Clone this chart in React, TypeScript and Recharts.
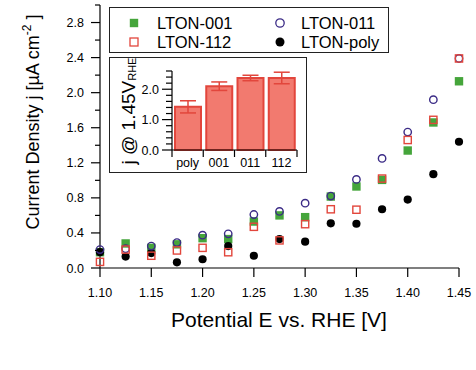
import React from 'react';
import {
  ScatterChart, Scatter, XAxis, YAxis, BarChart, Bar, ErrorBar, Label,
} from 'recharts';

const FONT = '"Liberation Sans", Arial, Helvetica, sans-serif';

// ---- main chart data ----
const potentials = [1.1, 1.125, 1.15, 1.175, 1.2, 1.225, 1.25, 1.275, 1.3, 1.325, 1.35, 1.375, 1.4, 1.425, 1.45];
const lton001 = [0.18, 0.28, 0.23, 0.27, 0.34, 0.33, 0.53, 0.6, 0.58, 0.815, 0.93, 1.005, 1.34, 1.66, 2.13];
const lton011 = [0.21, 0.22, 0.25, 0.29, 0.375, 0.39, 0.61, 0.645, 0.74, 0.82, 1.01, 1.25, 1.55, 1.92, 2.39];
const lton112 = [0.07, 0.21, 0.14, 0.2, 0.23, 0.18, 0.47, 0.315, 0.5, 0.67, 0.665, 1.02, 1.46, 1.69, 2.39];
const ltonPoly = [0.18, 0.13, 0.17, 0.065, 0.1, 0.25, 0.14, 0.33, 0.3, 0.51, 0.505, 0.67, 0.78, 1.07, 1.44];
const seriesNames = ['LTON-001', 'LTON-011', 'LTON-112', 'LTON-poly'];

const xTicks = [1.1, 1.15, 1.2, 1.25, 1.3, 1.35, 1.4, 1.45];
const yTicks = [0, 0.2, 0.4, 0.6, 0.8, 1.0, 1.2, 1.4, 1.6, 1.8, 2.0, 2.2, 2.4, 2.6, 2.8, 3.0];
const yMajor = [0, 0.4, 0.8, 1.2, 1.6, 2.0, 2.4, 2.8];

// ---- inset data ----
const insetCats = ['poly', '001', '011', '112'];
const insetVals = [1.42, 2.1, 2.37, 2.37];
const insetErr = [0.2, 0.14, 0.09, 0.19];
const insetTicks = [0, 0.2, 0.4, 0.6, 0.8, 1.0, 1.2, 1.4, 1.6, 1.8, 2.0, 2.2, 2.4, 2.6];
const insetMajor = [0, 1, 2];

const GREEN = '#45a53b';
const RED = '#e2463c';
const PURPLE = '#3b2b86';
const BAR_FILL = '#f27a6f';

const toPts = (vals: number[]) => potentials.map((x, i) => ({ x, y: vals[i] }));
const isIn = (arr: number[], v: number) => arr.some((a) => Math.abs(a - v) < 1e-6);

const GreenSquare = (p: any) => <rect x={p.cx - 4.2} y={p.cy - 4.2} width={8.4} height={8.4} fill={GREEN} />;
const RedSquare = (p: any) => (
  <rect x={p.cx - 3.6} y={p.cy - 3.6} width={7.2} height={7.2} fill="none" stroke={RED} strokeWidth={1.4} />
);
const OpenCircle = (p: any) => <circle cx={p.cx} cy={p.cy} r={3.7} fill="none" stroke={PURPLE} strokeWidth={1.4} />;
const BlackCircle = (p: any) => <circle cx={p.cx} cy={p.cy} r={4.1} fill="#000" />;

const XTick = (props: any) => {
  const { x, y, payload } = props;
  return (
    <g>
      <line x1={x} y1={y} x2={x} y2={y + 9} stroke="#000" strokeWidth={1.2} />
      <text x={x} y={y + 29} textAnchor="middle" fontSize={12.5} fontFamily={FONT} fill="#000">
        {Number(payload.value).toFixed(2)}
      </text>
    </g>
  );
};

const YTick = (props: any) => {
  const { x, y, payload } = props;
  const v = Number(payload.value);
  const major = isIn(yMajor, v);
  return (
    <g>
      <line x1={x} y1={y} x2={x - (major ? 9 : 5)} y2={y} stroke="#000" strokeWidth={1.2} />
      {major && (
        <text x={x - 16} y={y + 4.5} textAnchor="end" fontSize={12.5} fontFamily={FONT} fill="#000">
          {v.toFixed(1)}
        </text>
      )}
    </g>
  );
};

const InsetYTick = (props: any) => {
  const { x, y, payload } = props;
  const v = Number(payload.value);
  const major = isIn(insetMajor, v);
  return (
    <g>
      <line x1={x} y1={y} x2={x - (major ? 10 : 6)} y2={y} stroke="#000" strokeWidth={1.2} />
      {major && (
        <text x={x - 13} y={y + 4.5} textAnchor="end" fontSize={12.5} fontFamily={FONT} fill="#000">
          {v.toFixed(1)}
        </text>
      )}
    </g>
  );
};

const BAND = 31.25;
const InsetXTick = (props: any) => {
  const { x, y, payload, index } = props;
  return (
    <g>
      <line x1={x - BAND / 2} y1={y} x2={x - BAND / 2} y2={y + 7} stroke="#000" strokeWidth={1.2} />
      {index === insetCats.length - 1 && (
        <line x1={x + BAND / 2} y1={y} x2={x + BAND / 2} y2={y + 7} stroke="#000" strokeWidth={1.2} />
      )}
      <text x={x} y={y + 17} textAnchor="middle" fontSize={12.5} fontFamily={FONT} fill="#000">
        {payload.value}
      </text>
    </g>
  );
};

const insetData = insetCats.map((c, i) => ({ cat: c, val: insetVals[i], err: insetErr[i] }));

const legendMarkers = [
  (cx: number, cy: number) => <rect x={cx - 4.2} y={cy - 4.2} width={8.4} height={8.4} fill={GREEN} />,
  (cx: number, cy: number) => <circle cx={cx} cy={cy} r={4.2} fill="none" stroke={PURPLE} strokeWidth={1.3} />,
  (cx: number, cy: number) => (
    <rect x={cx - 4} y={cy - 4} width={8} height={8} fill="none" stroke={RED} strokeWidth={1.3} />
  ),
  (cx: number, cy: number) => <circle cx={cx} cy={cy} r={4.5} fill="#000" />,
];
// legend layout: row 1 = 001, 011 ; row 2 = 112, poly
const legendPos = [
  { mx: 25, tx: 48, cy: 16 },
  { mx: 171, tx: 192, cy: 16 },
  { mx: 25, tx: 48, cy: 35 },
  { mx: 171, tx: 192, cy: 35 },
];

export default function App() {
  return (
    <div style={{ position: 'absolute', left: 0, top: 0, width: 476, height: 370, background: '#fff' }}>
      <ScatterChart width={476} height={370} margin={{ top: 5, right: 17, left: 40, bottom: 62 }}>
        <XAxis
          type="number"
          dataKey="x"
          domain={[1.1, 1.45]}
          ticks={xTicks}
          height={40}
          tickSize={0}
          tickMargin={0}
          tick={<XTick />}
          axisLine={{ stroke: '#000', strokeWidth: 1.2 }}
          interval={0}
        >
          <Label
            content={() => (
              <text x={279} y={327} textAnchor="middle" fontSize={21} fontFamily={FONT} fill="#000">
                Potential E vs. RHE [V]
              </text>
            )}
          />
        </XAxis>
        <YAxis
          type="number"
          dataKey="y"
          domain={[0, 3]}
          ticks={yTicks}
          width={60}
          tickSize={0}
          tickMargin={0}
          tick={<YTick />}
          axisLine={{ stroke: '#000', strokeWidth: 1.2 }}
          interval={0}
        >
          <Label
            content={() => (
              <text
                transform="translate(39,122) rotate(-90)"
                textAnchor="middle"
                fontSize={18}
                fontFamily={FONT}
                fill="#000"
              >
                Current Density j [µA cm
                <tspan dy={-8} fontSize={12}>-2</tspan>
                <tspan dy={8}> ]</tspan>
              </text>
            )}
          />
        </YAxis>
        <Scatter name={seriesNames[0]} data={toPts(lton001)} shape={GreenSquare} isAnimationActive={false} />
        <Scatter name={seriesNames[3]} data={toPts(ltonPoly)} shape={BlackCircle} isAnimationActive={false} />
        <Scatter name={seriesNames[1]} data={toPts(lton011)} shape={OpenCircle} isAnimationActive={false} />
        <Scatter name={seriesNames[2]} data={toPts(lton112)} shape={RedSquare} isAnimationActive={false} />
      </ScatterChart>

      {/* legend box */}
      <div
        style={{
          position: 'absolute', left: 109, top: 7, width: 280, height: 46,
          boxSizing: 'border-box', border: '1.5px solid #222', background: '#fff',
        }}
      >
        <svg width={280} height={46} style={{ position: 'absolute', left: -1.5, top: -1.5 }}>
          {seriesNames.map((name, i) => {
            const p = legendPos[i];
            return (
              <g key={name}>
                {legendMarkers[i](p.mx, p.cy)}
                <text x={p.tx} y={p.cy + 6} fontSize={16.5} fontFamily={FONT} fill="#000">{name}</text>
              </g>
            );
          })}
        </svg>
      </div>

      {/* inset */}
      <div style={{ position: 'absolute', left: 109, top: 57, width: 198, height: 116, background: '#fff' }}>
        <BarChart width={198} height={116} data={insetData} margin={{ top: 14, right: 10, left: 23, bottom: 3 }}>
          <XAxis
            dataKey="cat"
            height={20}
            tickSize={0}
            tickMargin={0}
            tick={<InsetXTick />}
            axisLine={{ stroke: '#000', strokeWidth: 1.2 }}
            interval={0}
          />
          <YAxis
            type="number"
            domain={[0, 2.6]}
            ticks={insetTicks}
            width={40}
            tickSize={0}
            tickMargin={0}
            tick={<InsetYTick />}
            axisLine={{ stroke: '#000', strokeWidth: 1.2 }}
            interval={0}
          >
            <Label
              content={() => (
                <text
                  transform="translate(26,54) rotate(-90)"
                  textAnchor="middle"
                  fontSize={19}
                  fontFamily={FONT}
                  fill="#000"
                >
                  j @ 1.45V
                  <tspan dy={1} fontSize={11}>RHE</tspan>
                </text>
              )}
            />
          </YAxis>
          <Bar dataKey="val" fill={BAR_FILL} stroke={RED} strokeWidth={2} barSize={26} isAnimationActive={false}>
            <ErrorBar dataKey="err" width={8} stroke={RED} strokeWidth={1.5} direction="y" />
          </Bar>
        </BarChart>
        <div
          style={{
            position: 'absolute', left: 0, top: 0, width: 198, height: 116,
            boxSizing: 'border-box', border: '1.5px solid #222', pointerEvents: 'none',
          }}
        />
      </div>
    </div>
  );
}
